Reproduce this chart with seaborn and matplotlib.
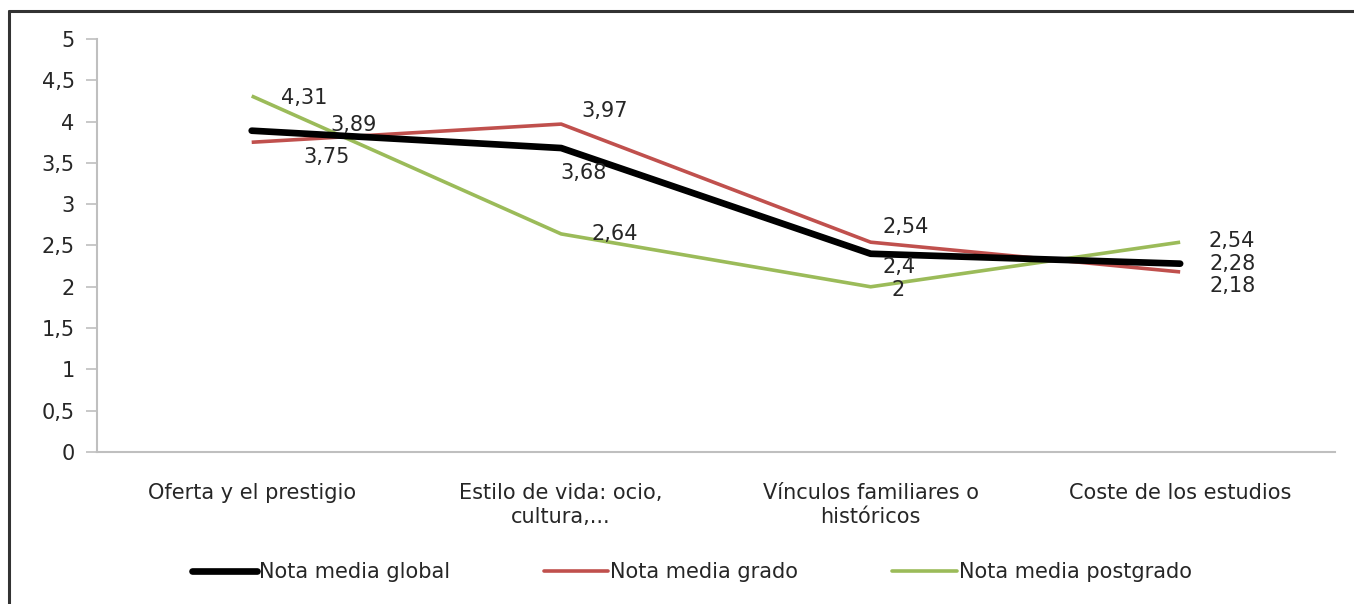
import numpy as np
import pandas as pd
import seaborn as sns
import matplotlib.pyplot as plt
from matplotlib.lines import Line2D

# data
categorias = ["Oferta y el prestigio", "Estilo de vida: ocio,\ncultura,...",
              "Vínculos familiares o\nhistóricos", "Coste de los estudios"]
global_vals = [3.89, 3.68, 2.4, 2.28]
grado_vals = [3.75, 3.97, 2.54, 2.18]
postgrado_vals = [4.31, 2.64, 2.0, 2.54]
series_names = ["Nota media global", "Nota media grado", "Nota media postgrado"]
yticks = [0, 0.5, 1, 1.5, 2, 2.5, 3, 3.5, 4, 4.5, 5]

df = pd.DataFrame({
    "x": list(range(4)) * 3,
    "valor": global_vals + grado_vals + postgrado_vals,
    "serie": [series_names[0]] * 4 + [series_names[1]] * 4 + [series_names[2]] * 4,
})

sns.set_style("white")
plt.rcParams['font.family'] = ['DejaVu Sans']
fs = 15

fig = plt.figure(figsize=(13.54, 6.04), dpi=100)
ax = fig.add_axes([0.0716, 0.2517, 0.9143, 0.6837])

colors = {series_names[0]: "#000000", series_names[1]: "#c0504d", series_names[2]: "#9bbb59"}
widths = {series_names[0]: 4.8, series_names[1]: 2.6, series_names[2]: 2.6}
# draw green and red first, black on top
for name in [series_names[2], series_names[1], series_names[0]]:
    sub = df[df["serie"] == name]
    sns.lineplot(data=sub, x="x", y="valor", ax=ax, color=colors[name],
                 linewidth=widths[name], label=name, legend=False,
                 solid_capstyle="butt" if name != series_names[0] else "round")

def fmt(v):
    s = ("%.2f" % v).rstrip("0").rstrip(".")
    return s.replace(".", ",")

# label offsets (pixels)
offsets = {
    series_names[0]: [(102, 6), (22, -25), (28, -13), (52, 0)],
    series_names[1]: [(75, -15), (43, 13), (35, 15), (52, -14)],
    series_names[2]: [(52, -2), (54, 0), (27, -3), (52, 1)],
}
vals = {series_names[0]: global_vals, series_names[1]: grado_vals, series_names[2]: postgrado_vals}
for name in series_names:
    for i, v in enumerate(vals[name]):
        dx, dy = offsets[name][i]
        ax.annotate(fmt(v), (i, v), xytext=(dx, dy), textcoords="offset pixels",
                    ha="center", va="center", fontsize=fs, color="#262626")

ax.set_xlim(-0.5, 3.5)
ax.set_ylim(0, 5)
ax.set_yticks(yticks)
ax.set_yticklabels([fmt(t) for t in yticks], fontsize=fs, color="#262626")
ax.set_xticks(range(4))
ax.set_xticklabels(categorias, fontsize=fs, color="#262626", linespacing=1.3)
ax.set_xticks(np.arange(-0.5, 4.0, 1.0), minor=True)
ax.tick_params(axis="x", which="major", length=0, pad=22)
ax.tick_params(axis="x", which="minor", length=8, color="#bfbfbf", width=1.2)
ax.tick_params(axis="y", length=8, color="#bfbfbf", width=1.2, pad=8, left=True)
ax.set_xlabel("")
ax.set_ylabel("")
for side in ["top", "right"]:
    ax.spines[side].set_visible(False)
for side in ["left", "bottom"]:
    ax.spines[side].set_color("#bfbfbf")
    ax.spines[side].set_linewidth(1.5)

handles = [Line2D([], [], color=colors[n], linewidth=widths[n]) for n in series_names]
fig.legend(handles, series_names, loc="center", bbox_to_anchor=(0.511, 0.053), ncol=3,
           frameon=False, fontsize=fs, handlelength=3.1, handletextpad=0.1,
           columnspacing=4.5, labelcolor="#262626")

# chart border (top and left)
fig.add_artist(Line2D([0.0066, 1.0], [0.9816, 0.9816], color="#333333", linewidth=2.2,
                      transform=fig.transFigure))
fig.add_artist(Line2D([0.0066, 0.0066], [0.0, 0.9816], color="#333333", linewidth=2.2,
                      transform=fig.transFigure))

fig.savefig("out.png", dpi=100)
